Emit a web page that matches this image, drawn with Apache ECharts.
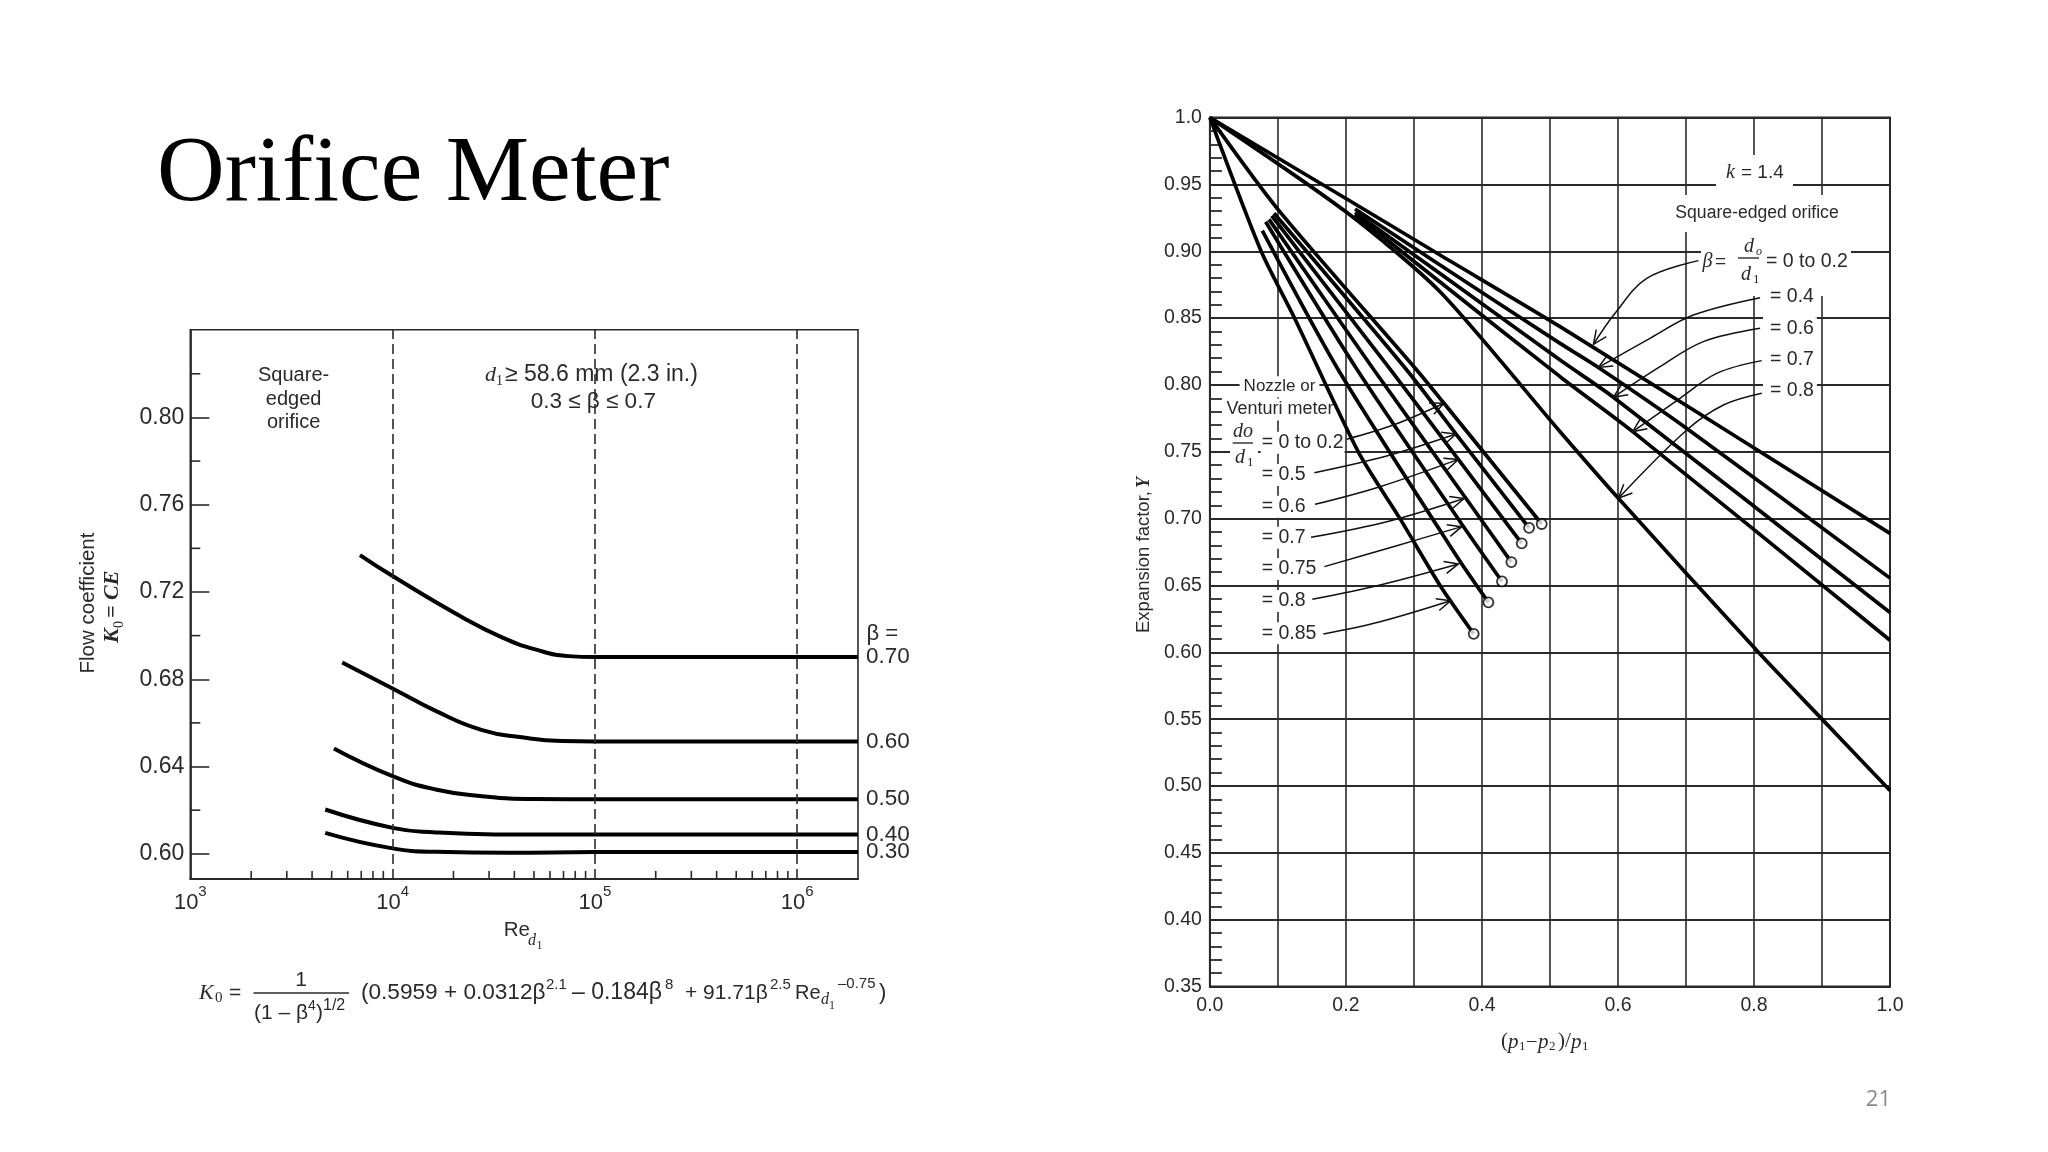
<!DOCTYPE html>
<html><head><meta charset="utf-8">
<style>html,body{margin:0;padding:0;background:#fff}#c{width:2048px;height:1152px}</style>
<script src="https://cdn.jsdelivr.net/npm/echarts@6/dist/echarts.min.js"></script>
</head><body><div id="c"></div>
<script>
// ---------- left chart: flow coefficient vs Reynolds number
const beta70 = [[6902,.7369],[10000,.7273],[22100,.7084],[34750,.6992],[50700,.6937],[74000,.6906],[100000,.6902],[1000000,.6902],[2000000,.6902]];
const beta60 = [[5637,.6877],[10000,.6758],[16330,.6655],[27720,.6567],[43530,.6534],[68560,.6517],[100000,.6515],[1000000,.6515],[2000000,.6515]];
const beta50 = [[5130,.6483],[10000,.6356],[16330,.6295],[27720,.6264],[50700,.6251],[100000,.625],[1000000,.625],[2000000,.625]];
const beta40 = [[4645,.6203],[10000,.6119],[16330,.6098],[32200,.6089],[100000,.6089],[1000000,.6089],[2000000,.6089]];
const beta30 = [[4645,.6096],[10000,.6025],[16330,.6009],[37500,.6005],[100000,.6008],[1000000,.6008],[2000000,.6008]];
const leftBetaNames = ['0.70','0.60','0.50','0.40','0.30'];
const reDashed = [10000,100000,1000000];
const reMinorTicks = [2000,3000,4000,5000,6000,7000,8000,9000,20000,30000,40000,50000,60000,70000,80000,90000,200000,300000,400000,500000,600000,700000,800000,900000];
const k0Labels = [.60,.64,.68,.72,.76,.80];
const k0Minor = [.62,.66,.70,.74,.78,.82];

// ---------- right chart: expansion factor
const orifice0 = [[0,1],[.2,.9395],[.3384,.8972],[.5149,.8436],[1,.689]];
const orifice4 = [[.2134,.9316],[.3384,.8897],[.5149,.8311],[.5712,.8131],[.7012,.7675],[1,.6555]];
const orifice6 = [[.2134,.929],[.3384,.8834],[.5149,.8186],[.5933,.7908],[1,.6298]];
const orifice7 = [[.2134,.9275],[.3384,.877],[.5149,.8062],[.6217,.7651],[1,.609]];
const orifice8 = [[0,1],[.2,.9295],[.3384,.8697],[.5149,.765],[.6006,.7152],[.8065,.6],[.9,.55],[1,.4966]];
const nozzle0 = [[0,1],[.1,.9314],[.3041,.8112],[.3442,.7863],[.4879,.696]];
const nozzle5 = [[.0943,.9284],[.2894,.8112],[.3619,.7633],[.4693,.6931]];
const nozzle6 = [[.0909,.9264],[.2658,.8112],[.3653,.7443],[.4585,.6815]];
const nozzle7 = [[.0869,.9239],[.2413,.8112],[.3737,.7171],[.4433,.6675]];
const nozzle75 = [[.082,.9221],[.2168,.8112],[.3702,.696],[.4295,.653]];
const nozzle8 = [[.0771,.9154],[.1889,.8112],[.3653,.67],[.4095,.6374]];
const nozzle85 = [[0,1],[.0752,.9002],[.1242,.8503],[.2182,.75],[.2795,.7],[.3384,.65],[.3879,.6138]];
const xTickLabels = [0,.2,.4,.6,.8,1];
const arrowPaths = [
 [[.2011,.7594],[.2697,.77],[.3442,.7863]],
 [[.1536,.7344],[.26,.7469],[.3619,.7633]],
 [[.1546,.7107],[.2502,.7239],[.3653,.7443]],
 [[.1487,.686],[.26,.6977],[.3737,.7151]],
 [[.1683,.6641],[.2697,.679],[.3702,.694]],
 [[.1506,.6397],[.2502,.6504],[.3653,.6661]],
 [[.1668,.6137],[.2502,.6229],[.354,.6386]],
 [[.7183,.893],[.6423,.8798],[.5957,.8536],[.564,.8304]],
 [[.809,.8653],[.7109,.8523],[.6472,.8349],[.5712,.8131]],
 [[.809,.8424],[.7256,.8324],[.6619,.8137],[.5933,.7908]],
 [[.8114,.8182],[.7452,.8087],[.6913,.79],[.6217,.7651]],
 [[.8114,.7938],[.7551,.785],[.7012,.7663],[.6006,.7152]]
];

const SANS='"Liberation Sans",Arial,sans-serif', SERIF='"Liberation Serif",serif', INK='#2a2a2a';
function T(x,y,text,o){o=o||{};return {type:'text',x,y,rotation:o.rot||0,z:o.z==null?1:o.z,silent:true,style:{
  text,fill:o.color||INK,font:(o.style||'normal')+' '+(o.weight||'normal')+' '+(o.size||19)+'px '+(o.font||SANS),
  align:o.align||'left',verticalAlign:'middle',backgroundColor:o.bg,padding:o.pad}};}
function R(x,y,w,h){return {type:'rect',z:1,silent:true,shape:{x,y,width:w,height:h},style:{fill:'#fff'}};}
function B(x1,x2,y){return {type:'line',z:1,silent:true,shape:{x1,y1:y,x2,y2:y},style:{stroke:INK,lineWidth:1.4}};}
const it={font:SERIF,style:'italic'};
const ROT=Math.PI/2;

const graphics=[
 T(157,175,'Orifice Meter',{font:SERIF,size:93.7,color:'#000'}),
 // left notes
 T(293.6,375.3,'Square-',{align:'center',size:20}),T(293.6,399,'edged',{align:'center',size:20}),T(293.6,422.8,'orifice',{align:'center',size:20}),
 T(485,375,'d',{...it,size:22}),T(496,381,'1',{font:SERIF,size:14}),T(505,375,'≥ 58.6 mm (2.3 in.)',{size:23}),
 T(593.3,401.4,'0.3 ≤ β ≤ 0.7',{align:'center',size:22.5}),
 T(866.5,634,'β =',{size:22}),
 T(88.7,603,'Flow coefficient',{rot:ROT,align:'center',size:20.5}),
 T(112.8,643,'K',{...it,weight:'bold',rot:ROT,size:22}),T(119,628,'0',{font:SERIF,rot:ROT,size:14}),
 T(112.8,618,'= CE',{...it,weight:'bold',rot:ROT,size:22}),
 T(503.7,930,'Re',{size:20.5}),T(528,941,'d',{...it,size:16}),T(536.5,946,'1',{font:SERIF,size:12}),
 // equation
 T(199,993,'K',{...it,size:22}),T(215,998,'0',{font:SERIF,size:15}),T(229,993,'=',{size:21}),
 T(301,980,'1',{align:'center',size:21}),B(253.5,349,993),
 T(254,1013,'(1 – β',{size:21}),T(308,1006,'4',{size:14}),T(316,1013,')',{size:21}),T(323,1006,'1/2',{size:16}),
 T(361,993,'(0.5959 + 0.0312β',{size:22.6}),T(546,985,'2.1',{size:15}),
 T(572,993,'– 0.184β',{size:23}),T(665,985,'8',{size:15}),
 T(685,993,'+ 91.71β',{size:21}),T(770,985,'2.5',{size:15}),
 T(795,993,'Re',{size:20}),T(821,1000,'d',{...it,size:16}),T(829,1006,'1',{font:SERIF,size:12}),
 T(838,984,'–0.75',{size:15}),T(879,993,')',{size:22}),
 // right: white knock-outs behind legend text
 R(1716,155,77,40),R(1676,195,162,37),R(1701,232,150,64),
 R(1763,302,52,26),R(1763,376,52,26),
 T(1726,173,'k',{...it,size:20}),T(1741,173,'= 1.4',{size:19}),
 T(1757,213.5,'Square-edged orifice',{align:'center',size:17.6}),
 T(1702.5,261.7,'β',{...it,size:20}),T(1715,261.7,'=',{size:19}),
 T(1749,247,'d',{...it,size:20,align:'center'}),T(1756,252,'o',{...it,size:12}),B(1738,1759,258),
 T(1746,275,'d',{...it,size:20,align:'center'}),T(1753,280,'1',{font:SERIF,size:13}),
 T(1766,261.7,'= 0 to 0.2',{size:19.5}),
 T(1767,296.7,'= 0.4',{size:19.5,bg:'#fff',pad:[1,3]}),T(1767,328.3,'= 0.6',{size:19.5,bg:'#fff',pad:[1,3]}),
 T(1767,360,'= 0.7',{size:19.5,bg:'#fff',pad:[1,3]}),T(1767,390.7,'= 0.8',{size:19.5,bg:'#fff',pad:[1,3]}),
 T(1279.5,386.7,'Nozzle or',{align:'center',size:17,bg:'#fff',pad:[2,4]}),
 T(1280,409.5,'Venturi meter',{align:'center',size:18,bg:'#fff',pad:[2,3]}),
 R(1230,425,28,45),
 T(1243,431.5,'do',{...it,align:'center',size:20}),B(1232.7,1253,443),T(1240,458,'d',{...it,align:'center',size:20}),T(1247,463,'1',{font:SERIF,size:13}),
 T(1260.7,442.7,'= 0 to 0.2',{size:19.5,bg:'#fff',pad:[1,1]}),
 T(1260.7,475,'= 0.5',{size:19.5,bg:'#fff',pad:[1,1]}),T(1260.7,506.7,'= 0.6',{size:19.5,bg:'#fff',pad:[1,1]}),
 T(1260.7,537.7,'= 0.7',{size:19.5,bg:'#fff',pad:[1,1]}),T(1260.7,569,'= 0.75',{size:19.5,bg:'#fff',pad:[1,1]}),
 T(1260.7,601,'= 0.8',{size:19.5,bg:'#fff',pad:[1,1]}),T(1260.7,633.3,'= 0.85',{size:19.5,bg:'#fff',pad:[1,1]}),
 T(1144,633,'Expansion factor,',{rot:ROT,size:18.5}),
 T(1144,488,'Y',{...it,weight:'bold',rot:ROT,size:18}),
 // right x title
 T(1501,1041,'(',{font:SERIF,size:21}),T(1508,1042,'p',{...it,size:21}),T(1519,1047,'1',{font:SERIF,size:13}),T(1527,1041,'–',{font:SERIF,size:19}),
 T(1538,1042,'p',{...it,size:21}),T(1549,1047,'2',{font:SERIF,size:13}),T(1558,1041,')/',{font:SERIF,size:21}),
 T(1571,1042,'p',{...it,size:21}),T(1582,1047,'1',{font:SERIF,size:13}),
 // page number
 T(1891,1100,'21',{align:'right',size:22,color:'#8a8a8a',font:'"Open Sans",sans-serif'})
];

function lineSeries(name,data,xi,w,smooth){return {name,type:'line',data,xAxisIndex:xi,yAxisIndex:xi,showSymbol:false,silent:true,
  smooth,lineStyle:{color:'#000',width:w},z:3};}
function tickSeries(rows,dx,dy,xi){return {type:'custom',xAxisIndex:xi,yAxisIndex:xi,data:rows,silent:true,z:2,clip:false,
  renderItem(p,api){const a=api.coord([api.value(0),api.value(1)]);
    return {type:'line',shape:{x1:a[0],y1:a[1],x2:a[0]+dx,y2:a[1]+dy},style:{stroke:INK,lineWidth:1.6}};}};}

const leftSeries=[beta70,beta60,beta50,beta40,beta30].map((d,i)=>{
  const s=lineSeries(leftBetaNames[i],d,0,4,0.5);
  s.endLabel={show:true,formatter:'{a}',distance:8,fontFamily:SANS,fontSize:22.5,color:INK};
  return s;});
leftSeries[0].markLine={silent:true,symbol:'none',label:{show:false},animation:false,
  lineStyle:{type:[10,5],color:INK,width:1.6},data:reDashed.map(v=>({xAxis:v}))};

const rightNames=['β 0–0.2','β 0.4','β 0.6','β 0.7','β 0.8','nozzle 0–0.2','nozzle 0.5','nozzle 0.6','nozzle 0.7','nozzle 0.75','nozzle 0.8','nozzle 0.85'];
const rightData=[orifice0,orifice4,orifice6,orifice7,orifice8,nozzle0,nozzle5,nozzle6,nozzle7,nozzle75,nozzle8,nozzle85];
const rightSeries=rightData.map((d,i)=>lineSeries(rightNames[i],d,1,3.7,0.25));
const endCircles={type:'scatter',xAxisIndex:1,yAxisIndex:1,silent:true,z:5,symbolSize:10,
  itemStyle:{color:'#fff',borderColor:'#000',borderWidth:1.8},
  data:rightData.slice(5).map(d=>d[d.length-1])};
const arrows={type:'custom',xAxisIndex:1,yAxisIndex:1,silent:true,z:4,clip:false,
  data:arrowPaths.map(a=>a[a.length-1]),
  renderItem(p,api){
    const pts=arrowPaths[p.dataIndex].map(q=>api.coord(q));
    const n=pts.length,t=pts[n-1],u=pts[n-2];
    const ang=Math.atan2(u[1]-t[1],u[0]-t[0]),L=15,H=0.42;
    const a=[t[0]+L*Math.cos(ang+H),t[1]+L*Math.sin(ang+H)],b=[t[0]+L*Math.cos(ang-H),t[1]+L*Math.sin(ang-H)];
    const st={stroke:'#111',lineWidth:1.5,fill:null};
    return {type:'group',children:[
      {type:'polyline',shape:{points:pts,smooth:0.35},style:st},
      {type:'polyline',shape:{points:[a,t,b]},style:st}]};
  }};

const axisLine={show:true,lineStyle:{color:INK,width:1.8}};
const option={animation:false,backgroundColor:'#fff',
 grid:[
  {left:190.3,top:329.7,width:667.7,height:549.2,show:true,borderColor:INK,borderWidth:1.6,backgroundColor:'transparent'},
  {left:1209.9,top:117.6,width:680.1,height:868.9,show:true,borderColor:INK,borderWidth:2,backgroundColor:'transparent'}
 ],
 xAxis:[
  {type:'log',logBase:10,min:1000,max:2000000,gridIndex:0,axisLine,splitLine:{show:false},
   axisTick:{show:false},minorTick:{show:false},
   axisLabel:{showMaxLabel:false,margin:5,color:INK,fontFamily:SANS,
     formatter:v=>{const e=Math.log10(v);return Math.abs(e-Math.round(e))<1e-6?'{b|10}{s|'+Math.round(e)+'}':'';},
     rich:{b:{fontSize:22,fontFamily:SANS,color:INK,verticalAlign:'bottom',lineHeight:30},s:{fontSize:15,fontFamily:SANS,color:INK,verticalAlign:'top',lineHeight:16}}}},
  {type:'value',min:0,max:1,interval:.1,gridIndex:1,axisLine,axisTick:{show:false},
   splitLine:{show:true,lineStyle:{color:INK,width:1.6}},
   axisLabel:{customValues:xTickLabels,formatter:v=>v.toFixed(1),margin:9,fontSize:19.5,fontFamily:SANS,color:INK}}
 ],
 yAxis:[
  {type:'value',min:.5885,max:.8402,gridIndex:0,scale:true,axisLine,splitLine:{show:false},
   axisTick:{show:true,inside:true,customValues:k0Labels,length:19,lineStyle:{color:INK,width:1.6}},
   axisLabel:{customValues:k0Labels,formatter:v=>v.toFixed(2),margin:6,fontSize:23,fontFamily:SANS,color:INK}},
  {type:'value',min:.35,max:1,interval:.05,gridIndex:1,axisLine,
   axisTick:{show:true,inside:true,length:0},
   minorTick:{show:true,splitNumber:5,length:12,lineStyle:{color:INK,width:1.8}},
   splitLine:{show:true,lineStyle:{color:INK,width:2}},
   axisLabel:{formatter:v=>v===1?'1.0':v.toFixed(2),margin:8,fontSize:19.5,fontFamily:SANS,color:INK}}
 ],
 graphic:{elements:graphics},
 series:[...leftSeries,
   tickSeries(reMinorTicks.map(v=>[v,.5885]),0,-8,0),
   tickSeries(k0Minor.map(v=>[1000,v]),10,0,0),
   ...rightSeries,arrows,endCircles]
};
echarts.init(document.getElementById('c'),null,{renderer:'canvas'}).setOption(option);
</script></body></html>
